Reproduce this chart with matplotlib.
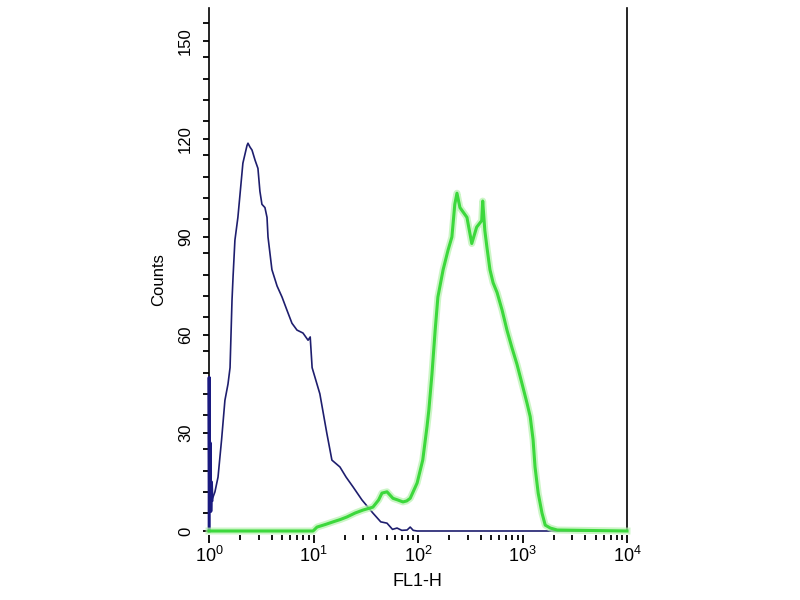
import matplotlib
matplotlib.use("Agg")
import matplotlib.pyplot as plt
import numpy as np

plt.rcParams['font.family'] = ['Liberation Sans', 'DejaVu Sans']
plt.rcParams['mathtext.fontset'] = 'custom'
plt.rcParams['mathtext.rm'] = 'Liberation Sans'
plt.rcParams['mathtext.it'] = 'Liberation Sans'
plt.rcParams['mathtext.bf'] = 'Liberation Sans'

# ---- data ----
blue_x = [1.004, 1.004, 1.012, 1.025, 1.04, 1.055, 1.068, 1.14, 1.22, 1.32, 1.42, 1.52,
          1.59, 1.66, 1.70, 1.77, 1.89, 1.98, 2.11, 2.31, 2.36, 2.47, 2.58, 2.76,
          2.94, 3.07, 3.21, 3.43, 3.59, 3.67, 4.0, 4.48, 5.0, 5.57, 6.22, 6.95,
          7.93, 8.87, 9.3, 9.7, 11.5, 13.4, 15.0, 17.9, 20.5, 23.9, 29.1, 37.0,
          44.0, 50.5, 57.0, 63.0, 70.0, 78.6, 84.2, 90.0, 98.0, 10000]
blue_y = [0, 47, 10, 27, 6, 15, 9.5, 12, 16.5, 28, 40, 45,
          50, 70.6, 78, 89, 96, 103, 112.6, 118, 118.7, 117.5, 116.6, 113.5,
          111, 104, 100, 99, 96, 90, 80, 75, 71.6, 67.6, 63.6, 61.5,
          60.6, 58.4, 59.4, 50, 42, 30, 21.7, 19.6, 16.5, 13.5, 9.5, 5.5,
          2.8, 2.4, 0.5, 0.9, 0.2, 0.3, 1.2, 0.2, 0, 0]

green_x = [1.0, 9.9, 10.8, 13, 15.4, 18, 20.9, 25, 29.7, 37.0, 42, 45.2, 50.5,
           57.6, 64, 71.8, 78, 84.2, 98.1, 111, 122, 127, 136, 146, 155, 174,
           194, 211, 225, 236, 252, 294, 327, 364, 407, 416, 436, 456, 488,
           523, 571, 638, 710, 794, 886, 991, 1107, 1185, 1262, 1318, 1413,
           1536, 1650, 1846, 2150, 10000]
green_y = [0, 0, 1.2, 2, 2.8, 3.5, 4.3, 5.5, 6.4, 7.3, 9.5, 11.6, 12,
           10, 9.5, 8.9, 9.2, 10, 14.7, 21.7, 32, 37, 48, 61.5, 71.6, 80,
           86, 90, 100, 103.4, 99, 96, 88, 93, 95, 101, 92, 87, 80,
           76, 73, 67.6, 61.5, 56, 51, 45, 39, 35, 28, 19.6, 11.6,
           5.5, 1.8, 0.9, 0.3, 0]

y_major = [0, 30, 60, 90, 120, 150]
x_major = [1, 10, 100, 1000, 10000]
x_labels = [r'$10^{0}$', r'$10^{1}$', r'$10^{2}$', r'$10^{3}$', r'$10^{4}$']

fig = plt.figure(figsize=(8, 6), dpi=100)
fig.patch.set_facecolor('white')
ax = fig.add_axes([209 / 800, 69 / 600, 418 / 800, 522.7 / 600])

ax.plot(blue_x, blue_y, color='#1e1e6e', lw=1.2, zorder=3, clip_on=False)
ax.plot(blue_x[:7], blue_y[:7], color='#1a1a80', lw=2.2, zorder=3, clip_on=False)
ax.plot(green_x, green_y, color='#b6f2ae', lw=5.0, alpha=0.7, zorder=4,
        clip_on=False, solid_joinstyle='round')
ax.plot(green_x, green_y, color='#3cd83c', lw=2.2, zorder=5, clip_on=False,
        solid_joinstyle='round')

ax.set_xscale('log')
ax.set_xlim(1, 10000)
ax.set_ylim(0, 160)

# spines
ax.spines['top'].set_visible(False)
ax.spines['bottom'].set_position(('outward', 3))
ax.spines['bottom'].set_color('none')
for s in ('left', 'right'):
    ax.spines[s].set_linewidth(1.2)
    ax.spines[s].set_color('black')

# y ticks
ax.set_yticks(y_major)
minor_offsets = [5.5, 12.0, 18.4, 25.0]
ax.set_yticks([m + o for m in y_major for o in minor_offsets if m + o < 160], minor=True)
ax.tick_params(axis='y', which='major', direction='out', length=4.5, width=1.3,
               labelsize=12, pad=7, labelrotation=90)
ax.tick_params(axis='y', which='minor', direction='out', length=4.0, width=1.3)
for lab in ax.get_yticklabels():
    lab.set_verticalalignment('center')

# x ticks
ax.set_xticks(x_major)
ax.set_xticklabels(x_labels)
ax.set_xticks([d * k for d in [1, 10, 100, 1000] for k in range(2, 10)], minor=True)
ax.xaxis.set_minor_formatter(matplotlib.ticker.NullFormatter())
ax.tick_params(axis='x', which='major', direction='out', length=6, width=1.3,
               labelsize=13, pad=2)
ax.tick_params(axis='x', which='minor', direction='out', length=3.5, width=1.3)

fig.text(417 / 800, 1 - 581 / 600, 'FL1-H', fontsize=13, ha='center', va='center')
fig.text(159 / 800, 1 - 280 / 600, 'Counts', fontsize=12, ha='center', va='center',
         rotation=90)

fig.savefig('out.png', dpi=100, facecolor='white')
